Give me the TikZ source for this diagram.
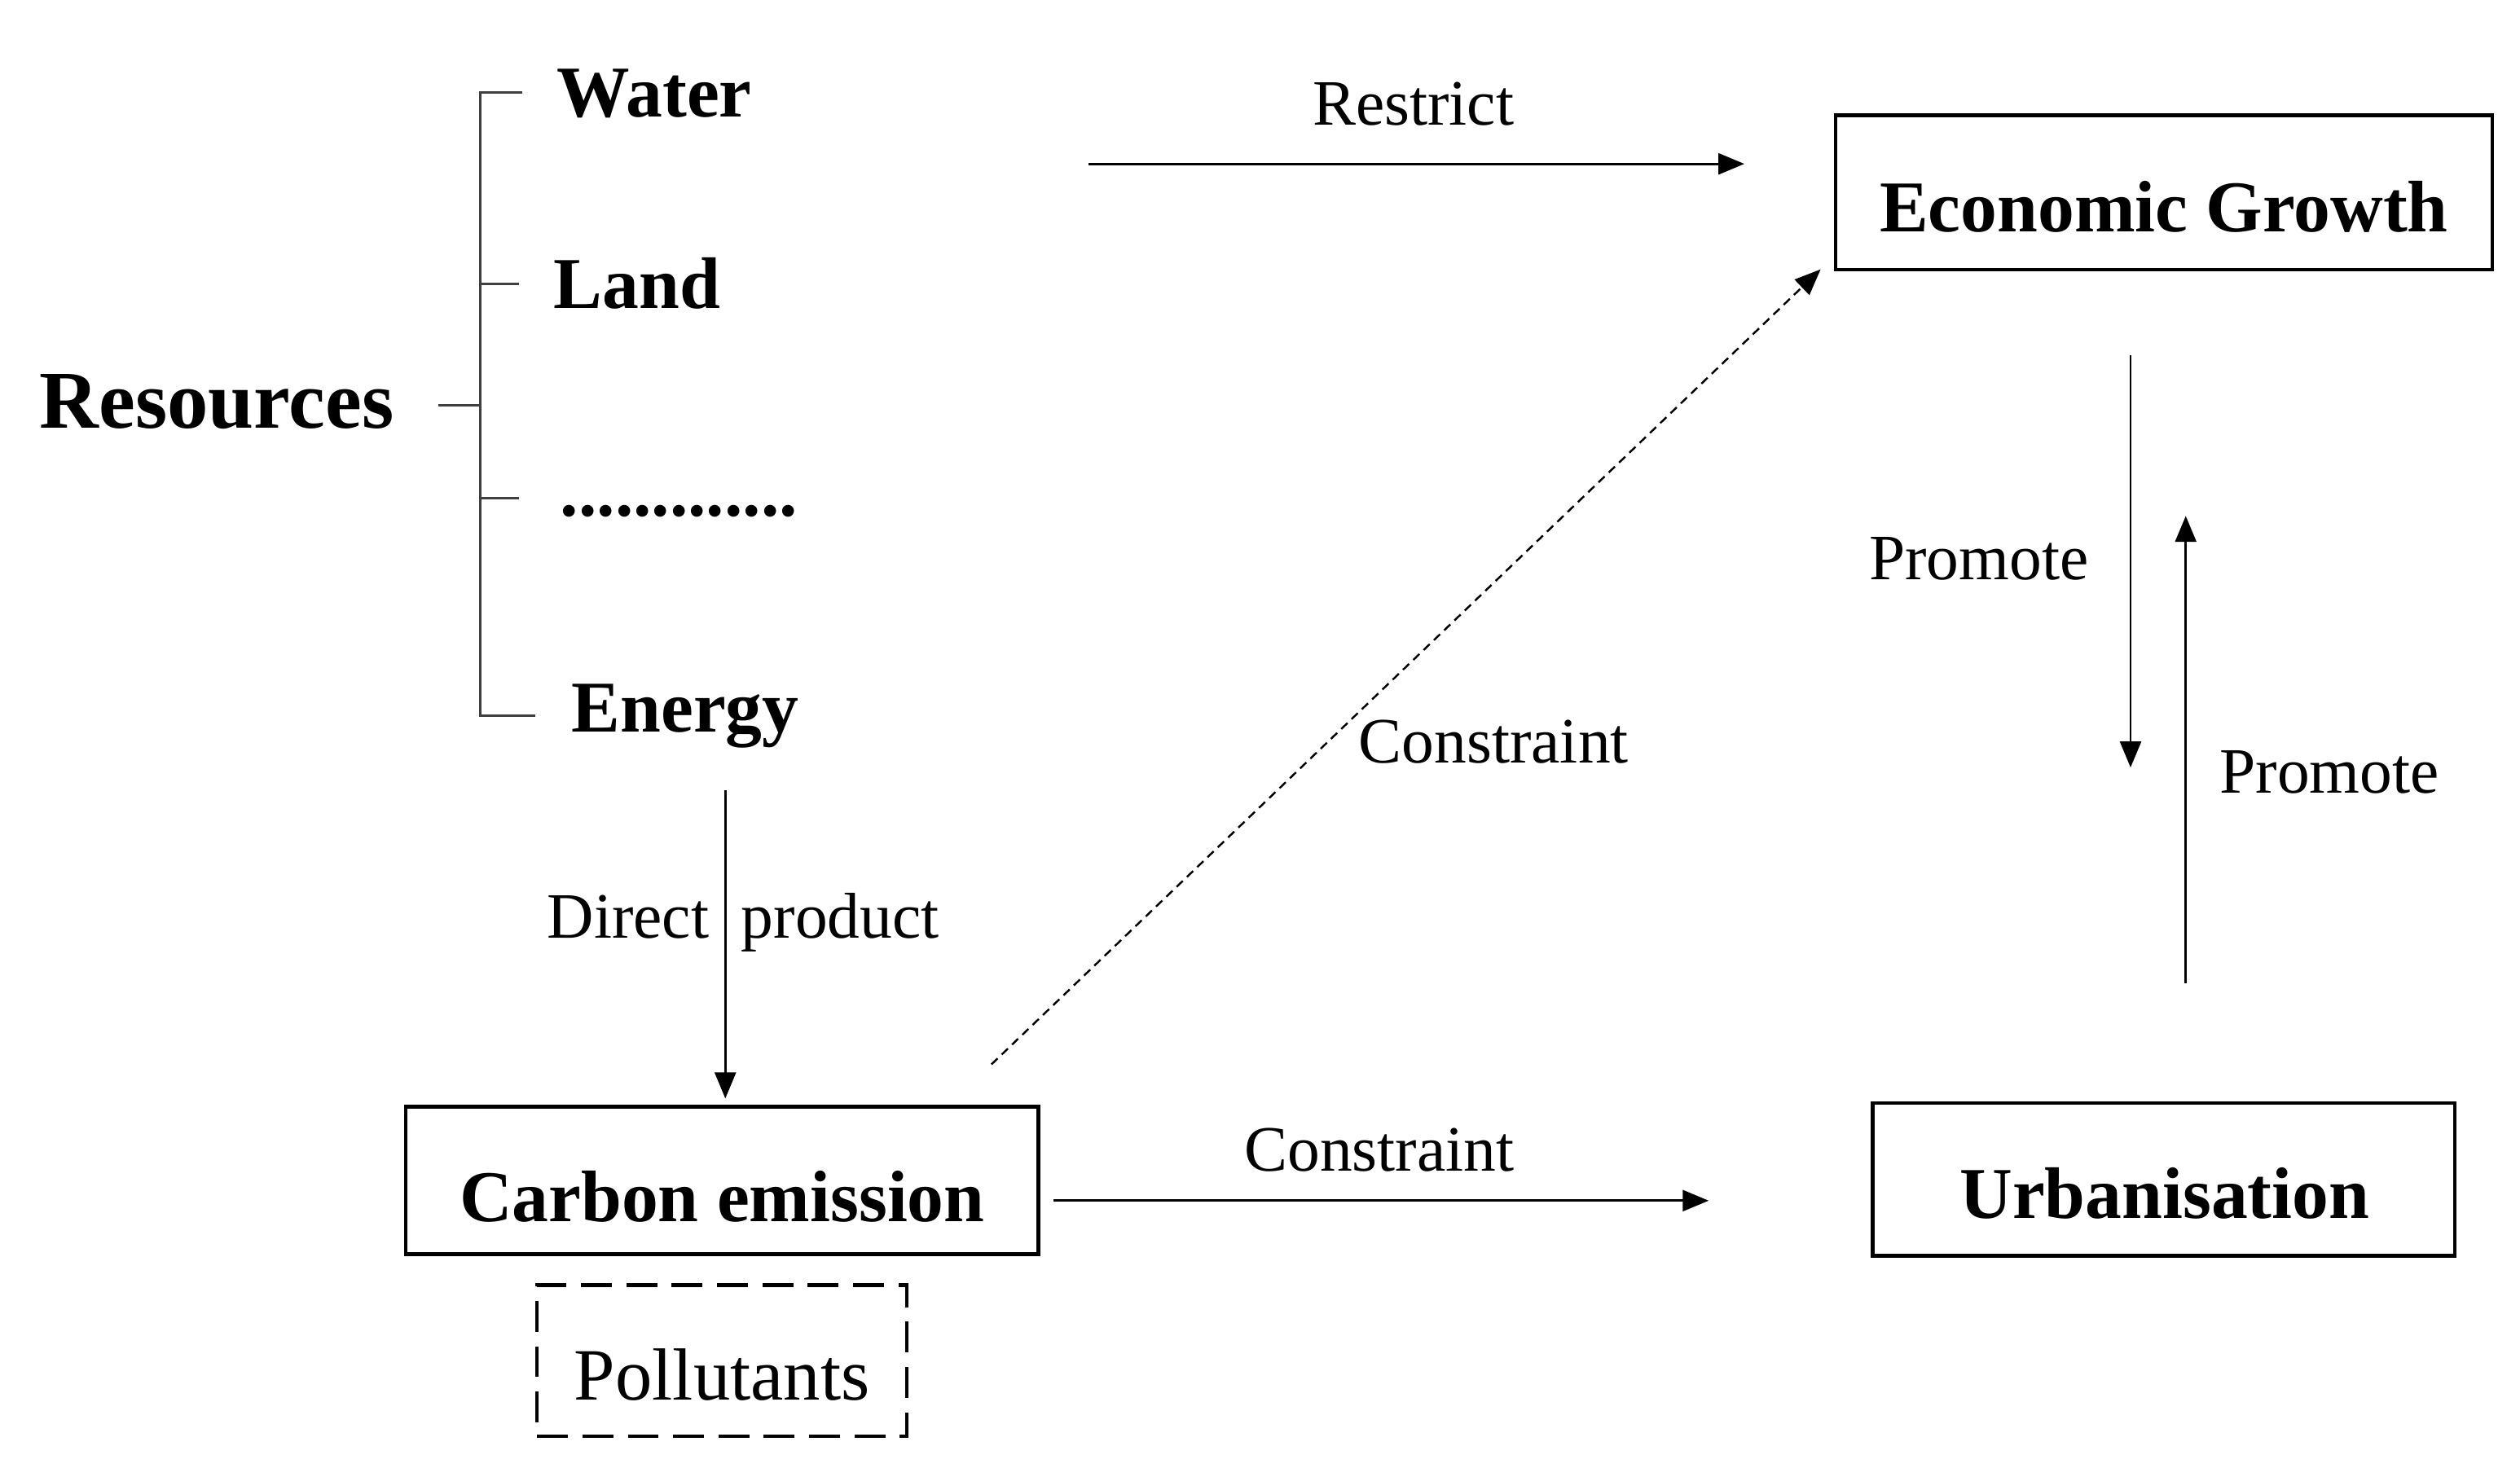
\documentclass[tikz,border=0pt]{standalone}
\usepackage{fontspec}
\setmainfont{Liberation Serif}
\usetikzlibrary{arrows.meta}
\begin{document}
\begin{tikzpicture}[x=0.02cm,y=-0.02cm,
  bold/.style={font=\fontsize{25.6}{30}\selectfont\bfseries, inner sep=0pt},
  lbl/.style={font=\fontsize{22.7}{27}\selectfont, inner sep=0pt},
  box/.style={draw, line width=1.2pt, inner sep=0pt},
  conn/.style={line width=0.8pt, -{Triangle[length=0.32cm,width=0.26cm]}},
  brk/.style={line width=0.9pt, black!75}]
\useasboundingbox (0,0) rectangle (1553,904.3);

% bracket of resources
\coordinate (bt) at (296,57);
\coordinate (bb) at (296,441);
\coordinate (twater) at (322,57);
\coordinate (tenergy) at (330,441);
\coordinate (bland) at (296,175);
\coordinate (tland) at (320,175);
\coordinate (bres) at (296,250);
\coordinate (tres) at (270,250);
\coordinate (bdots) at (296,307);
\coordinate (tdots) at (320,307);
\draw[brk] (twater) -- (bt) -- (bb) -- (tenergy);
\draw[brk] (bland) -- (tland);
\draw[brk] (tres) -- (bres);
\draw[brk] (bdots) -- (tdots);

\node[bold, font=\fontsize{28.8}{34}\selectfont\bfseries, anchor=base west] (res) at (24,264) {Resources};
\node[bold, anchor=base west] (water) at (343,72) {Water};
\node[bold, anchor=base west] (land) at (341,190) {Land};
\node[bold, anchor=base west] (dots) at (345,318) {.............};
\node[bold, anchor=base west] (energy) at (352,451) {Energy};

% boxes
\node[box, minimum width=8.10cm, minimum height=1.90cm] (eg) at (1333.5,118.5) {};
\node[bold, anchor=base] (egt) at (1333.5,143) {Economic Growth};
\node[box, line width=1.4pt, minimum width=7.80cm, minimum height=1.82cm] (ce) at (445,727.5) {};
\node[bold, anchor=base] (cet) at (445,753) {Carbon emission};
\node[box, minimum width=7.18cm, minimum height=1.88cm] (ur) at (1333.5,727) {};
\node[bold, anchor=base] (urt) at (1334,751) {Urbanisation};
\node[box, dash pattern=on 10.8pt off 5.1pt, minimum width=4.56cm, minimum height=1.86cm] (po) at (445,838.5) {};
\node[lbl, font=\fontsize{25.9}{30}\selectfont, anchor=base] (pot) at (445,863) {Pollutants};

% connector end points
\coordinate (r1) at (671,101);
\coordinate (r2) at (1075,101);
\coordinate (d1) at (611,656);
\coordinate (d2) at (1122,166);
\coordinate (p1) at (1313,219);
\coordinate (p2) at (1313,473);
\coordinate (q1) at (1347,606);
\coordinate (q2) at (1347,318);
\coordinate (e1) at (447,487);
\coordinate (e2) at (447,677);
\coordinate (c1) at (649,740);
\coordinate (c2) at (1053,740);

\draw[conn] (r1) -- (r2);
\draw[conn, line width=0.7pt, dash pattern=on 3pt off 2pt] (d1) -- (d2);
\draw[conn] (p1) -- (p2);
\draw[conn] (q1) -- (q2);
\draw[conn] (e1) -- (e2);
\draw[conn] (c1) -- (c2);

% labels
\node[lbl, anchor=base] (lres) at (871,77) {Restrict};
\node[lbl, anchor=base] (lcon1) at (920.5,470) {Constraint};
\node[lbl, anchor=base] (ldp) at (458,578) {Direct\hspace{0.5em}product};
\node[lbl, anchor=base] (lcon2) at (850,722) {Constraint};
\node[lbl, anchor=base] (lpro1) at (1219.5,357) {Promote};
\node[lbl, anchor=base] (lpro2) at (1435.5,489) {Promote};
\end{tikzpicture}
\end{document}
